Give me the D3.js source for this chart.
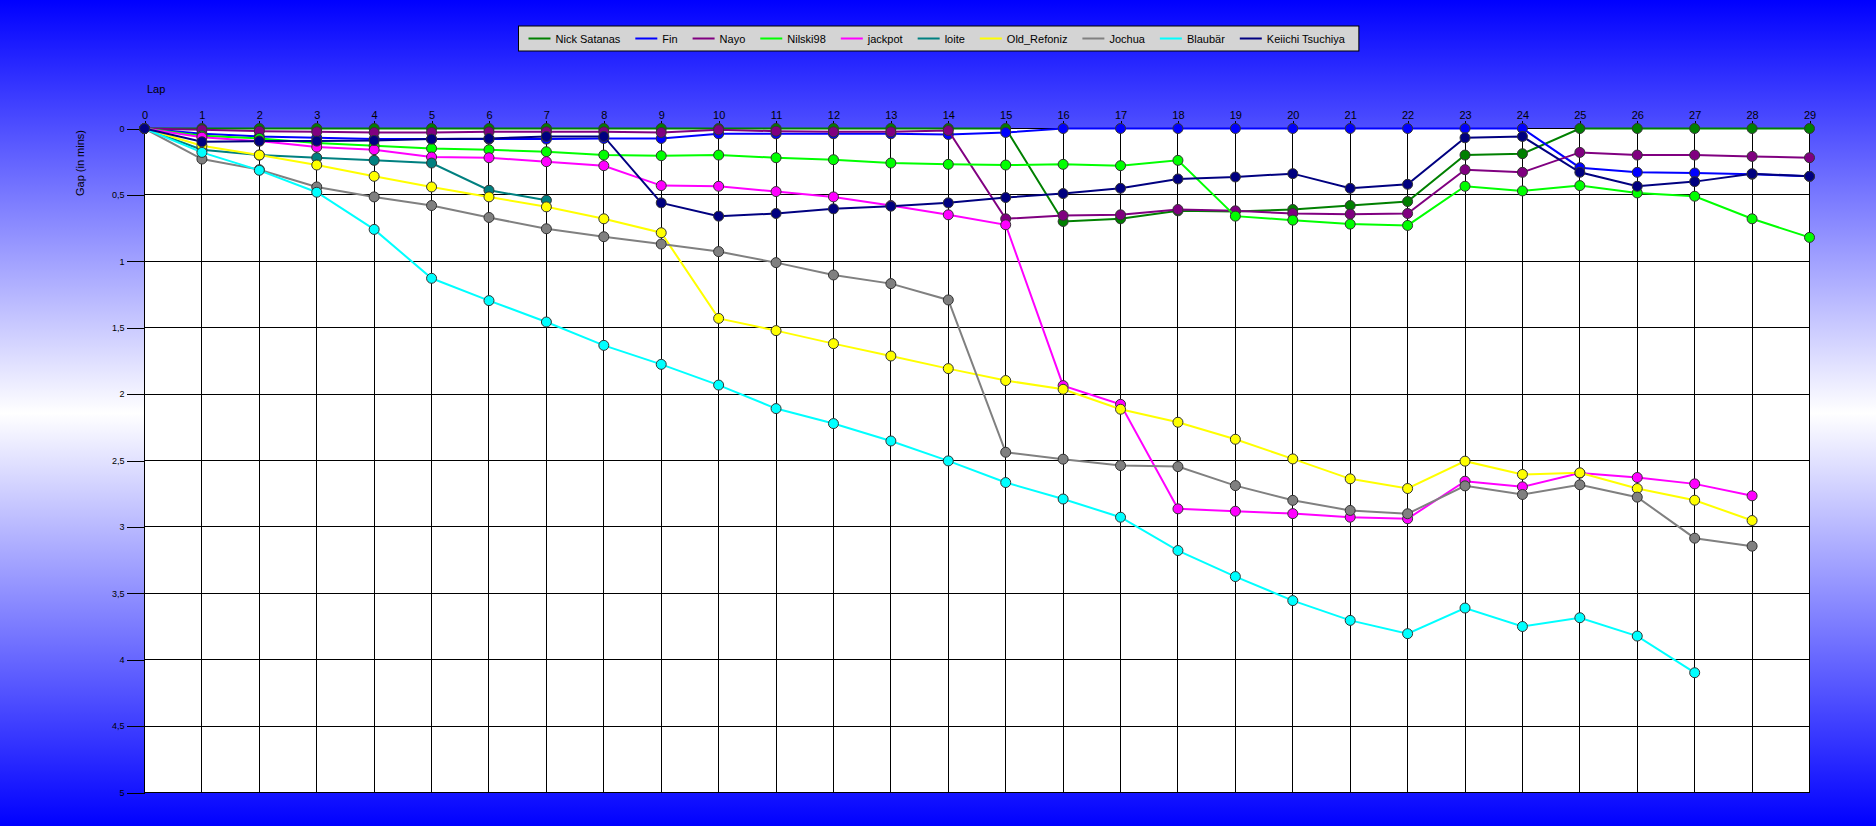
<!doctype html>
<html>
<head>
<meta charset="utf-8">
<title>Gap chart</title>
<script src="https://d3js.org/d3.v7.min.js"></script>
<style>
    body { margin: 0; }
    svg { display: block; font-family: "Liberation Sans", Arial, sans-serif; }
</style>
</head>
<body>
<script>
    // lap numbers (x tick labels) and gap ticks (y, minutes)
    var laps = [0, 1, 2, 3, 4, 5, 6, 7, 8, 9, 10, 11, 12, 13, 14, 15, 16, 17, 18, 19, 20, 21, 22, 23, 24, 25, 26, 27, 28, 29];
    var gapTicks = [0, 0.5, 1, 1.5, 2, 2.5, 3, 3.5, 4, 4.5, 5];

    var drivers = ["Nick Satanas", "Fin", "Nayo", "Nilski98", "jackpot", "loite", "Old_Refoniz", "Jochua", "Blaubär", "Keiichi Tsuchiya"];
    var colors = ["#008000", "#0000ff", "#800080", "#00ff00", "#ff00ff", "#008080", "#ffff00", "#808080", "#00ffff", "#000080"];

    // gap to leader per lap, in minutes
    var nickSatanas = [0, 0, 0, 0, 0, 0, 0, 0, 0, 0, 0, 0, 0, 0, 0, 0, 0.70, 0.68, 0.62, 0.625, 0.61, 0.58, 0.55, 0.20, 0.19, 0, 0, 0, 0, 0];
    var fin = [0, 0.04, 0.06, 0.07, 0.08, 0.08, 0.08, 0.08, 0.075, 0.075, 0.04, 0.04, 0.04, 0.04, 0.045, 0.03, 0, 0, 0, 0, 0, 0, 0, 0, 0, 0.295, 0.33, 0.335, 0.345, 0.36];
    var nayo = [0, 0.01, 0.02, 0.025, 0.03, 0.03, 0.025, 0.025, 0.025, 0.03, 0.01, 0.02, 0.025, 0.025, 0.015, 0.68, 0.655, 0.65, 0.61, 0.62, 0.64, 0.645, 0.64, 0.31, 0.33, 0.18, 0.2, 0.2, 0.21, 0.22];
    var nilski98 = [0, 0.055, 0.075, 0.11, 0.13, 0.15, 0.16, 0.175, 0.2, 0.205, 0.2, 0.22, 0.235, 0.26, 0.27, 0.275, 0.27, 0.28, 0.24, 0.66, 0.69, 0.72, 0.73, 0.435, 0.47, 0.43, 0.485, 0.51, 0.68, 0.82];
    var jackpot = [0, 0.065, 0.095, 0.14, 0.16, 0.215, 0.22, 0.25, 0.28, 0.43, 0.435, 0.475, 0.515, 0.58, 0.65, 0.725, 1.936, 2.077, 2.864, 2.882, 2.9, 2.927, 2.939, 2.656, 2.698, 2.595, 2.628, 2.676, 2.766];
    var loite = [0, 0.16, 0.2, 0.22, 0.24, 0.26, 0.465, 0.54];
    var oldRefoniz = [0, 0.13, 0.2, 0.275, 0.36, 0.44, 0.515, 0.59, 0.68, 0.785, 1.43, 1.522, 1.62, 1.713, 1.808, 1.898, 1.964, 2.114, 2.212, 2.34, 2.488, 2.638, 2.711, 2.505, 2.605, 2.593, 2.711, 2.799, 2.952];
    var jochua = [0, 0.23, 0.31, 0.44, 0.515, 0.58, 0.67, 0.755, 0.815, 0.87, 0.927, 1.01, 1.103, 1.168, 1.291, 2.438, 2.49, 2.538, 2.546, 2.689, 2.8, 2.876, 2.901, 2.691, 2.756, 2.683, 2.776, 3.085, 3.145];
    var blaubaer = [0, 0.18, 0.315, 0.48, 0.76, 1.128, 1.296, 1.457, 1.633, 1.776, 1.932, 2.109, 2.222, 2.353, 2.503, 2.666, 2.79, 2.927, 3.178, 3.374, 3.555, 3.704, 3.804, 3.611, 3.75, 3.684, 3.822, 4.098];
    var keiichi = [0, 0.10, 0.095, 0.095, 0.09, 0.08, 0.075, 0.06, 0.06, 0.56, 0.66, 0.64, 0.605, 0.585, 0.56, 0.52, 0.49, 0.45, 0.38, 0.365, 0.34, 0.45, 0.42, 0.07, 0.06, 0.33, 0.435, 0.40, 0.34, 0.36];

    var series = [nickSatanas, fin, nayo, nilski98, jackpot, loite, oldRefoniz, jochua, blaubaer, keiichi];

    var width = 1876, height = 826;

    var svg = d3.select("body").append("svg")
        .attr("width", width)
        .attr("height", height);

    // blue - white - blue background
    var grad = svg.append("defs").append("linearGradient")
        .attr("id", "bg").attr("x1", 0).attr("y1", 0).attr("x2", 0).attr("y2", 1);
    grad.append("stop").attr("offset", "0%").attr("stop-color", "#0000ff");
    grad.append("stop").attr("offset", "50%").attr("stop-color", "#ffffff");
    grad.append("stop").attr("offset", "100%").attr("stop-color", "#0000ff");
    svg.append("rect").attr("width", width).attr("height", height).attr("fill", "url(#bg)");

    var x = d3.scaleLinear().domain([0, 29]).range([144.5, 1809.5]);
    var y = d3.scaleLinear().domain([0, 5]).range([128.5, 792.5]);

    svg.append("rect")
        .attr("x", x(0)).attr("y", y(0))
        .attr("width", x(29) - x(0)).attr("height", y(5) - y(0))
        .attr("fill", "#fff");

    // grid
    var grid = svg.append("g").attr("stroke", "#000").attr("stroke-width", 1).attr("shape-rendering", "crispEdges");
    grid.selectAll("line.v").data(laps).enter().append("line")
        .attr("class", "v")
        .attr("x1", function (d) { return x(d); }).attr("x2", function (d) { return x(d); })
        .attr("y1", y(0)).attr("y2", y(5));
    grid.selectAll("line.h").data(gapTicks).enter().append("line")
        .attr("class", "h")
        .attr("x1", x(0)).attr("x2", x(29))
        .attr("y1", function (d) { return y(d); }).attr("y2", function (d) { return y(d); });

    // axes
    var xAxis = svg.append("g")
        .attr("transform", "translate(0," + y(0) + ")")
        .call(d3.axisTop(x).tickValues(laps).tickFormat(d3.format("d")).tickSize(8).tickSizeOuter(0).tickPadding(2));
    xAxis.select(".domain").remove();
    xAxis.selectAll("text").attr("font-size", 11).attr("fill", "#000");
    xAxis.selectAll("line").attr("stroke", "#000").attr("shape-rendering", "crispEdges");

    var yAxis = svg.append("g")
        .attr("transform", "translate(" + x(0) + ",0)")
        .call(d3.axisLeft(y).tickValues(gapTicks).tickSize(18).tickSizeOuter(0).tickPadding(2)
            .tickFormat(function (d) { return String(d).replace(".", ","); }));
    yAxis.select(".domain").remove();
    yAxis.selectAll("text").attr("font-size", 9).attr("fill", "#000");
    yAxis.selectAll("line").attr("stroke", "#000").attr("shape-rendering", "crispEdges");

    svg.append("text").attr("x", 147).attr("y", 93)
        .attr("font-size", 11).attr("fill", "#000").text("Lap");
    svg.append("text")
        .attr("transform", "translate(84,163) rotate(-90)")
        .attr("text-anchor", "middle").attr("font-size", 11).attr("fill", "#000")
        .text("Gap (in mins)");

    // series: line then markers, in legend order
    var line = d3.line()
        .x(function (d, i) { return x(laps[i]); })
        .y(function (d) { return y(d); });

    series.forEach(function (vals, s) {
        var g = svg.append("g");
        g.append("path")
            .attr("d", line(vals))
            .attr("fill", "none")
            .attr("stroke", colors[s])
            .attr("stroke-width", 2);
        g.selectAll("circle").data(vals).enter().append("circle")
            .attr("cx", function (d, i) { return x(laps[i]); })
            .attr("cy", function (d) { return y(d); })
            .attr("r", 5)
            .attr("fill", colors[s])
            .attr("stroke", "#333")
            .attr("stroke-width", 1);
    });

    // legend box at the top
    var legend = svg.append("g");
    var box = legend.append("rect")
        .attr("y", 26).attr("height", 25)
        .attr("fill", "#d4d4d4").attr("stroke", "#000").attr("stroke-width", 1);
    var items = legend.append("g");
    var pos = 0;
    drivers.forEach(function (name, i) {
        items.append("line")
            .attr("x1", pos).attr("x2", pos + 22)
            .attr("y1", 38.5).attr("y2", 38.5)
            .attr("stroke", colors[i]).attr("stroke-width", 2);
        var t = items.append("text")
            .attr("x", pos + 27).attr("y", 42.5)
            .attr("font-size", 11).attr("fill", "#000")
            .text(name);
        pos += 27 + t.node().getComputedTextLength() + 15;
    });
    var total = pos - 15 + 24;
    var left = Math.round(width / 2 - total / 2) + 0.5;
    box.attr("x", left).attr("width", total);
    items.attr("transform", "translate(" + (left + 10) + ",0)");
</script>
</body>
</html>
